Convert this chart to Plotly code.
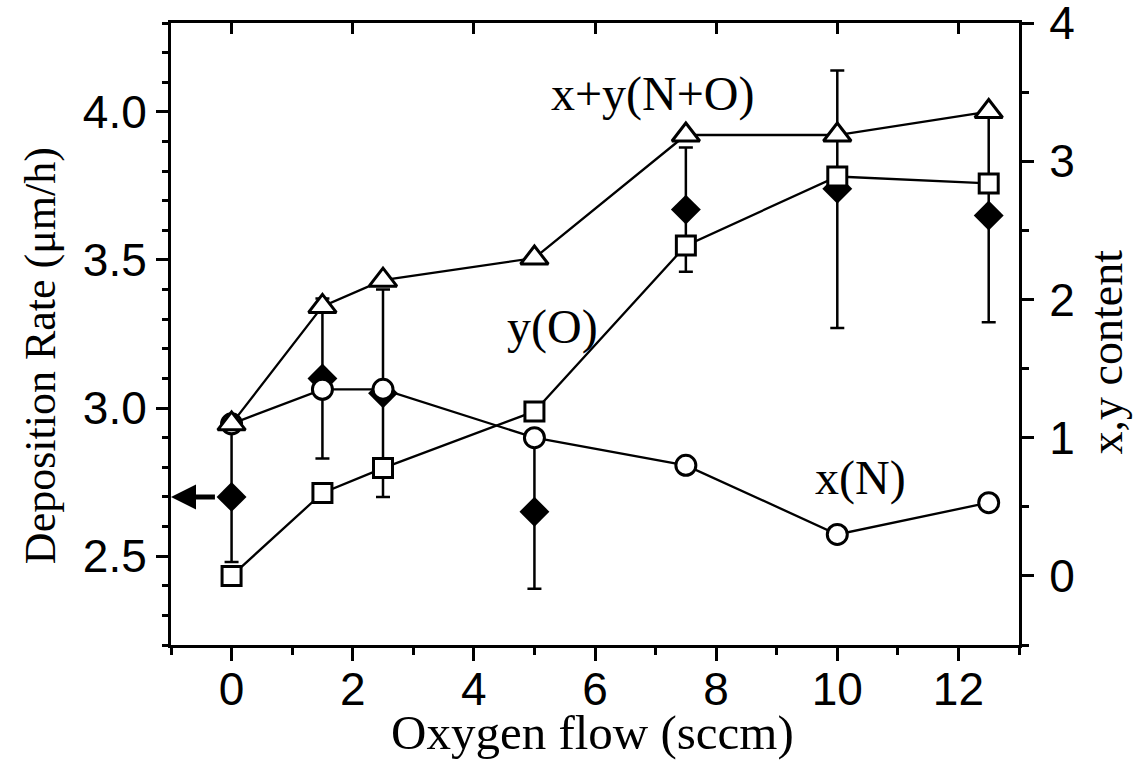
import plotly.graph_objects as go

# ---- data ----
oxygen_flow = [0, 1.5, 2.5, 5, 7.5, 10, 12.5]
dep_rate = [2.70, 3.10, 3.05, 2.65, 3.67, 3.74, 3.65]
dep_err_plus = [0.22, 0.27, 0.35, 0.26, 0.21, 0.40, 0.36]
dep_err_minus = [0.22, 0.27, 0.35, 0.26, 0.21, 0.47, 0.36]
x_N = [1.10, 1.35, 1.35, 1.00, 0.80, 0.30, 0.53]
y_O = [0.00, 0.60, 0.78, 1.19, 2.39, 2.89, 2.84]
xy_NO = [1.10, 1.95, 2.14, 2.30, 3.19, 3.19, 3.36]

x_ticks = [0, 2, 4, 6, 8, 10, 12]
left_ticks = [2.5, 3.0, 3.5, 4.0]
right_ticks = [0, 1, 2, 3, 4]

SERIF = "Liberation Serif, Times New Roman, serif"
SANS = "Liberation Sans, Arial, sans-serif"
LW = 3

fig = go.Figure()

# deposition rate (left axis), filled diamonds with error bars
fig.add_trace(go.Scatter(
    x=oxygen_flow, y=dep_rate, mode="markers", xaxis="x", yaxis="y",
    marker=dict(symbol="diamond", size=23, color="black", line=dict(width=0)),
    error_y=dict(type="data", symmetric=False, array=dep_err_plus,
                 arrayminus=dep_err_minus, thickness=2.5, width=7, color="black"),
    showlegend=False))

# composition series (right axis)
fig.add_trace(go.Scatter(
    x=oxygen_flow, y=x_N, mode="lines+markers", xaxis="x", yaxis="y2",
    line=dict(color="black", width=2.3),
    marker=dict(symbol="circle", size=20, color="white", line=dict(color="black", width=LW)),
    showlegend=False))
fig.add_trace(go.Scatter(
    x=oxygen_flow, y=y_O, mode="lines+markers", xaxis="x", yaxis="y2",
    line=dict(color="black", width=2.3),
    marker=dict(symbol="square", size=19, color="white", line=dict(color="black", width=LW)),
    showlegend=False))
fig.add_trace(go.Scatter(
    x=oxygen_flow, y=xy_NO, mode="lines+markers", xaxis="x", yaxis="y2",
    line=dict(color="black", width=2.3),
    marker=dict(symbol="triangle-up", size=24, color="white", line=dict(color="black", width=LW)),
    showlegend=False))

# empty trace so the top (mirror) axis is drawn
fig.add_trace(go.Scatter(x=[], y=[], xaxis="x2", yaxis="y", showlegend=False))

axis_common = dict(showgrid=False, zeroline=False, showline=True, linecolor="black",
                   linewidth=3, tickcolor="black", tickwidth=2.5, automargin=False)

fig.update_layout(
    width=1134, height=763,
    margin=dict(l=171, r=115, t=23, b=118, autoexpand=False),
    paper_bgcolor="white", plot_bgcolor="white",
    xaxis=dict(**axis_common, range=[-1, 13], tickvals=x_ticks,
               ticktext=[str(v) for v in x_ticks],
               ticks="outside", ticklen=13, ticklabelstandoff=-11,
               minor=dict(dtick=1, tick0=0, ticks="outside", ticklen=7,
                          tickwidth=2.5, tickcolor="black"),
               tickfont=dict(family=SANS, size=46, color="black"),
               anchor="y"),
    xaxis2=dict(**axis_common, range=[-1, 13], tickvals=x_ticks, ticks="inside",
                ticklen=11, showticklabels=False, overlaying="x", side="top",
                anchor="y"),
    yaxis=dict(**axis_common, range=[2.2, 4.3], tickvals=left_ticks,
               ticktext=["%.1f" % v for v in left_ticks],
               ticks="outside", ticklen=12,
               minor=dict(dtick=0.1, tick0=2.2, ticks="outside", ticklen=6,
                          tickwidth=2.5, tickcolor="black"),
               tickfont=dict(family=SANS, size=46, color="black"),
               anchor="x"),
    yaxis2=dict(**axis_common, range=[-0.5, 4.0005], tickvals=right_ticks,
                ticktext=[str(v) for v in right_ticks],
                ticks="outside", ticklen=12, ticklabelstandoff=6,
                ticklabeloverflow="allow",
                minor=dict(dtick=0.5, tick0=0, ticks="outside", ticklen=7,
                           tickwidth=2.5, tickcolor="black"),
                tickfont=dict(family=SANS, size=46, color="black"),
                overlaying="y", side="right", anchor="x"),
    annotations=[
        dict(text="Oxygen flow (sccm)", xref="paper", yref="paper", x=0.4976, y=-0.14,
             xanchor="center", yanchor="middle", showarrow=False,
             font=dict(family=SERIF, size=49, color="black")),
        dict(text="Deposition Rate (μm/h)", xref="paper", yref="paper", x=-0.1545, y=0.466,
             xanchor="center", yanchor="middle", showarrow=False, textangle=-90,
             font=dict(family=SERIF, size=44, color="black")),
        dict(text="x,y content", xref="paper", yref="paper", x=1.103, y=0.471,
             xanchor="center", yanchor="middle", showarrow=False, textangle=-90,
             font=dict(family=SERIF, size=46, color="black")),
        dict(text="x+y(N+O)", xref="x", yref="y2", x=6.95, y=3.49,
             xanchor="center", yanchor="middle", showarrow=False,
             font=dict(family=SERIF, size=48, color="black")),
        dict(text="y(O)", xref="x", yref="y2", x=5.30, y=1.80,
             xanchor="center", yanchor="middle", showarrow=False,
             font=dict(family=SERIF, size=48, color="black")),
        dict(text="x(N)", xref="x", yref="y2", x=10.39, y=0.71,
             xanchor="center", yanchor="middle", showarrow=False,
             font=dict(family=SERIF, size=48, color="black")),
        # arrow pointing to the left axis
        dict(text="", x=-1, y=dep_rate[0], xref="x", yref="y",
             ax=-0.25, ay=dep_rate[0], axref="x", ayref="y",
             showarrow=True, arrowhead=2, arrowsize=1.0, arrowwidth=5,
             arrowcolor="black", standoff=0, startstandoff=0),
    ],
)

fig.write_html("out.html")
